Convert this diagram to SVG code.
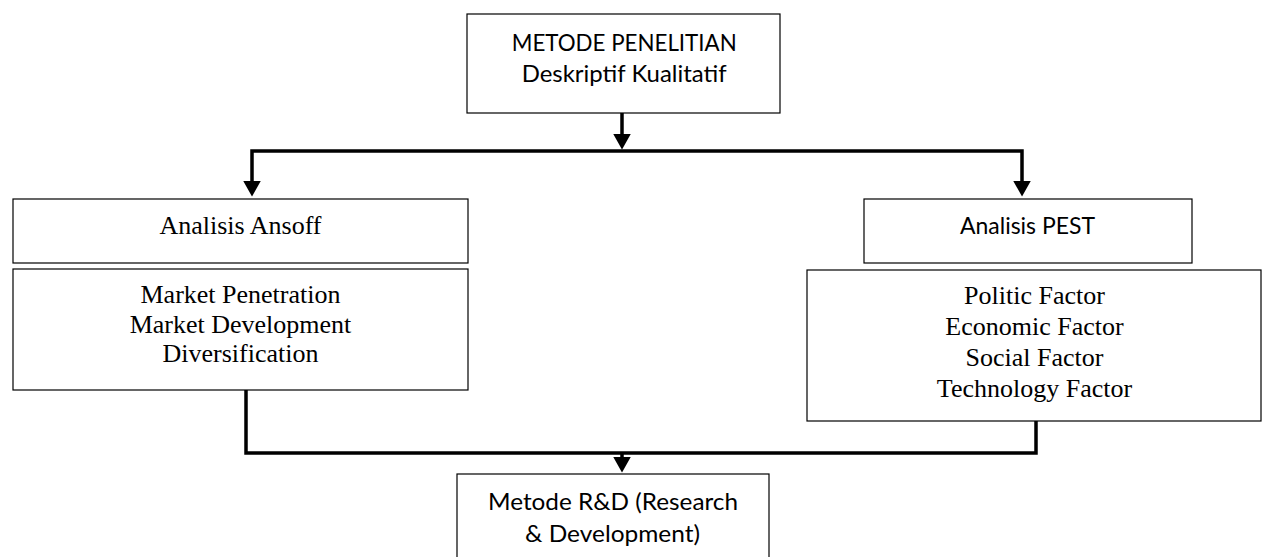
<svg xmlns="http://www.w3.org/2000/svg" width="1263" height="557" viewBox="0 0 1263 557">
<style>
.box{fill:#fff;stroke:#000;stroke-width:1.2}
.sans{font-family:Lato,"Open Sans","DejaVu Sans",sans-serif;font-size:24px;fill:#000}
.serif{font-family:"Liberation Serif","Times New Roman",serif;font-size:26px;fill:#000;text-anchor:middle}
.conn{fill:none;stroke:#000;stroke-width:3.5}
</style>
<defs>
<marker id="arr" markerUnits="userSpaceOnUse" markerWidth="16" markerHeight="18" viewBox="0 0 16 18" refX="0.5" refY="9" orient="auto-start-reverse">
<path d="M0,0 L16,9 L0,18 Z" fill="#000"/>
</marker>
</defs>
<rect width="1263" height="557" fill="#fff"/>
<g id="connectors">
<line class="conn" x1="622" y1="113" x2="622" y2="134" marker-end="url(#arr)"/>
<polyline class="conn" points="252,181 252,151 1022,151 1022,181" marker-start="url(#arr)" marker-end="url(#arr)"/>
<polyline class="conn" points="246,390 246,453 1036,453 1036,421"/>
<line class="conn" x1="622" y1="453" x2="622" y2="457" marker-end="url(#arr)"/>
</g>
<g id="metode-penelitian">
<rect class="box" x="467" y="14" width="313" height="99"/>
<text class="sans" x="511.7" y="51" textLength="225" lengthAdjust="spacingAndGlyphs">METODE PENELITIAN</text>
<text class="sans" x="521.7" y="82" textLength="205" lengthAdjust="spacingAndGlyphs">Deskriptif Kualitatif</text>
</g>
<g id="analisis-ansoff">
<rect class="box" x="13" y="199" width="455" height="64"/>
<text class="serif" x="240.5" y="234">Analisis Ansoff</text>
</g>
<g id="ansoff-items">
<rect class="box" x="13" y="269" width="455" height="121"/>
<text class="serif" x="240.5" y="303">Market Penetration</text>
<text class="serif" x="240.5" y="333">Market Development</text>
<text class="serif" x="240.5" y="362">Diversification</text>
</g>
<g id="analisis-pest">
<rect class="box" x="864" y="199" width="328" height="64"/>
<text class="sans" x="960" y="234" textLength="135" lengthAdjust="spacingAndGlyphs">Analisis PEST</text>
</g>
<g id="pest-items">
<rect class="box" x="807" y="270" width="454" height="151"/>
<text class="serif" x="1034.5" y="304">Politic Factor</text>
<text class="serif" x="1034.5" y="335">Economic Factor</text>
<text class="serif" x="1034.5" y="366">Social Factor</text>
<text class="serif" x="1034.5" y="397">Technology Factor</text>
</g>
<g id="metode-rd">
<rect class="box" x="457" y="474" width="312" height="100"/>
<text class="sans" x="488" y="510" textLength="250" lengthAdjust="spacingAndGlyphs">Metode R&amp;D (Research</text>
<text class="sans" x="525" y="542" textLength="175" lengthAdjust="spacingAndGlyphs">&amp; Development)</text>
</g>
</svg>
